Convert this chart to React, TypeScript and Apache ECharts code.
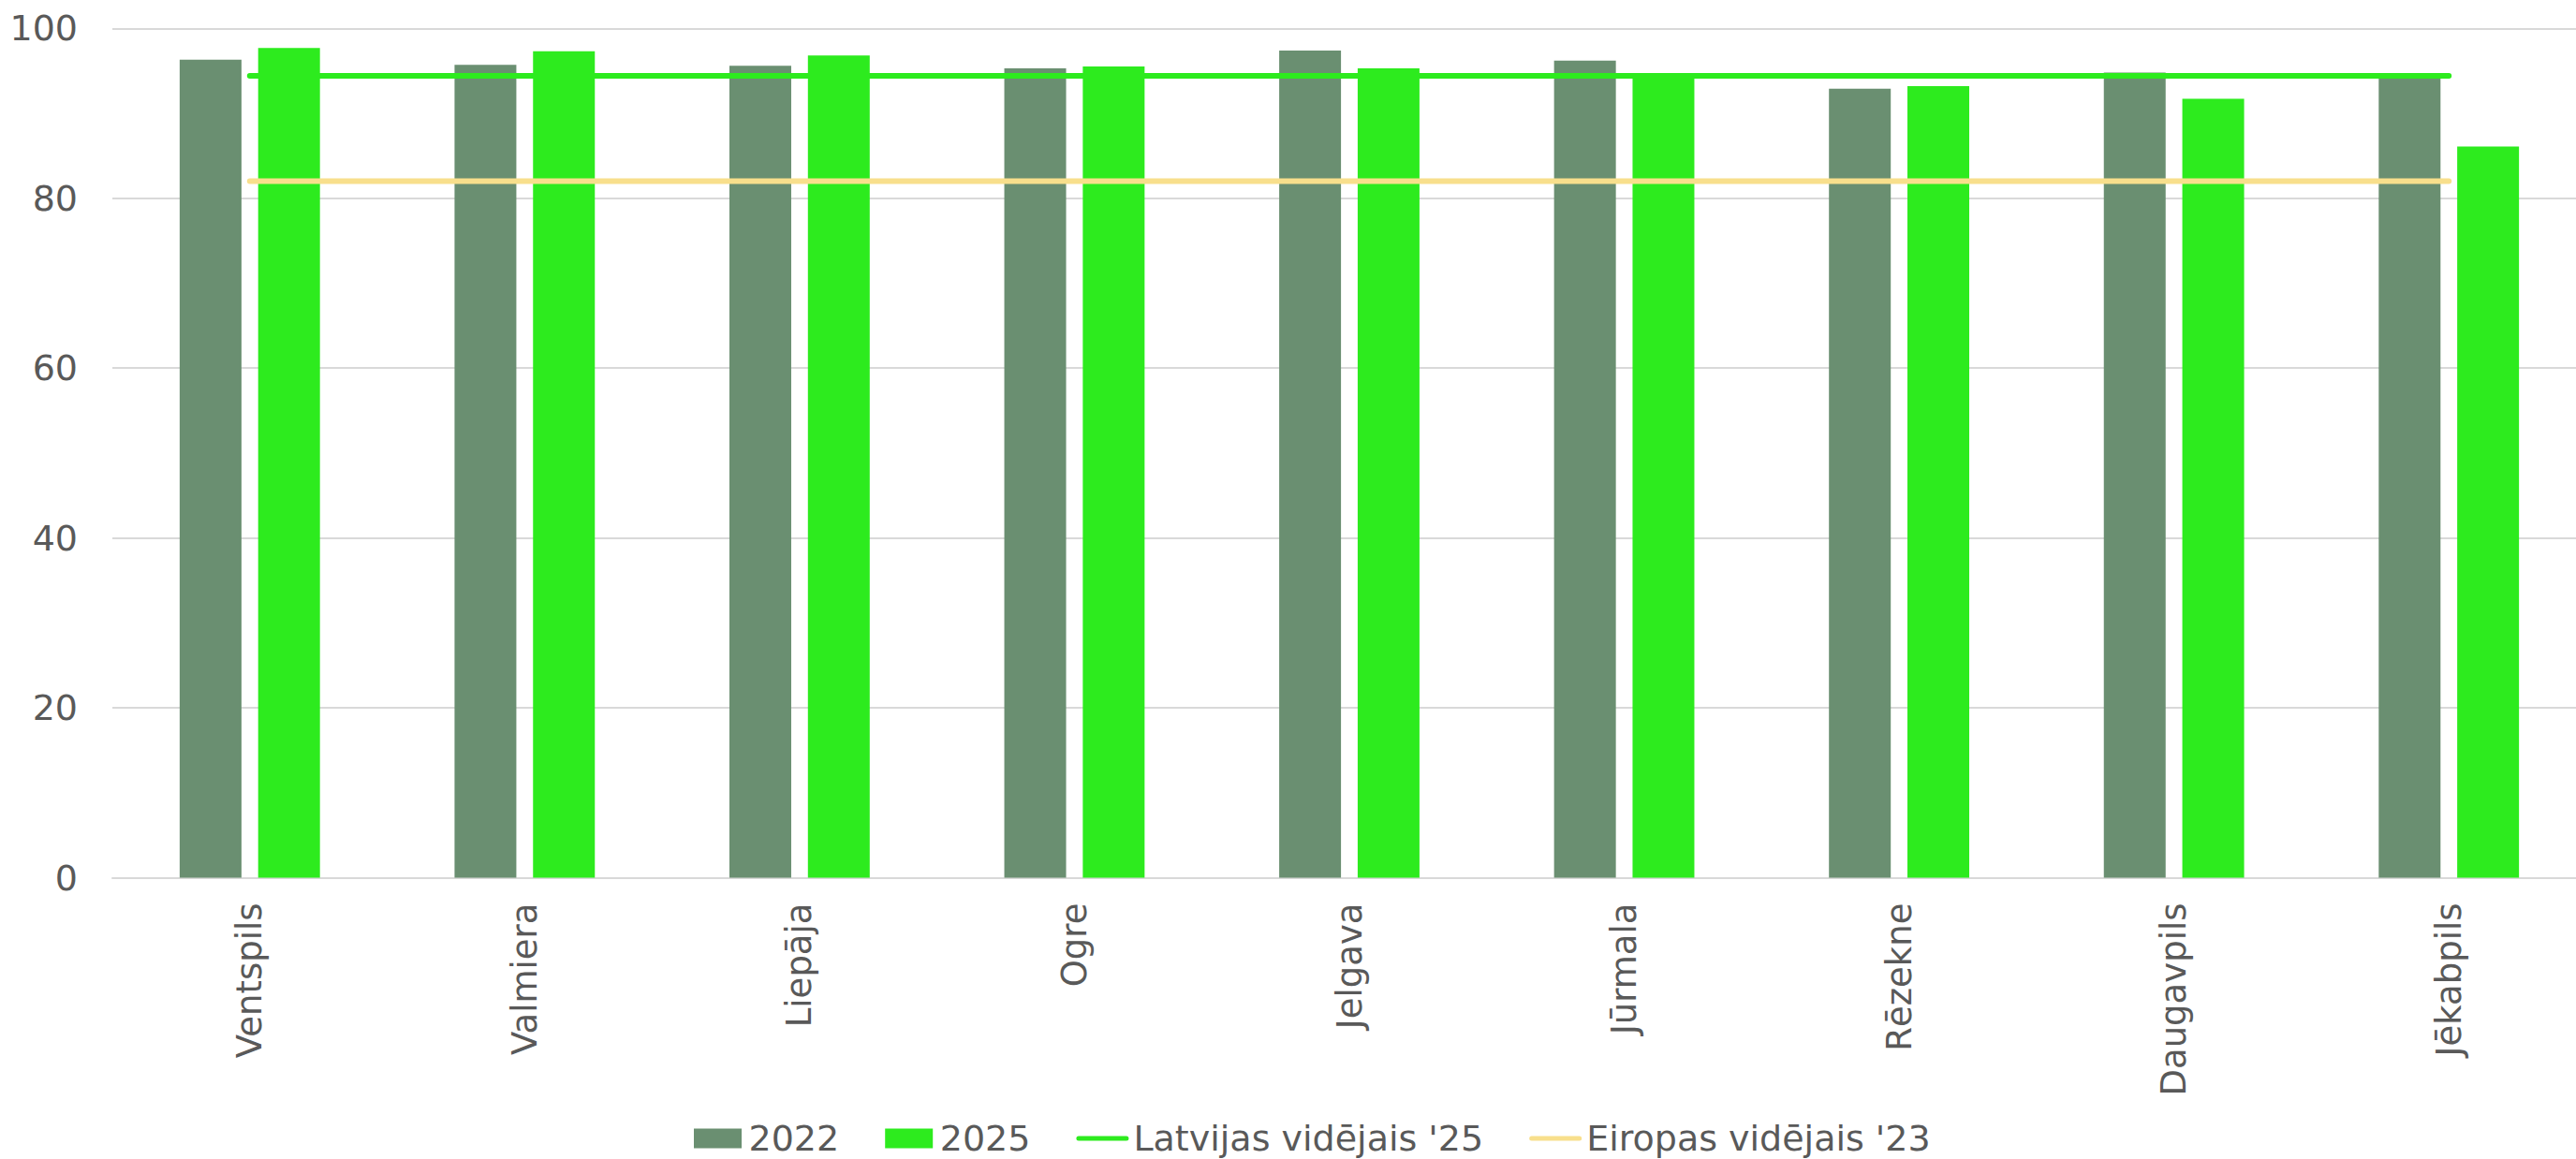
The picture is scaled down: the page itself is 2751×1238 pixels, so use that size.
import React, { useEffect, useRef } from "react";
import * as echarts from "echarts";

const categories = ["Ventspils", "Valmiera", "Liepāja", "Ogre", "Jelgava", "Jūrmala", "Rēzekne", "Daugavpils", "Jēkabpils"];
const values2022 = [96.3, 95.7, 95.6, 95.3, 97.4, 96.2, 92.9, 94.8, 94.5];
const values2025 = [97.7, 97.3, 96.8, 95.5, 95.3, 94.6, 93.2, 91.7, 86.1];
const latviaAvg25 = [94.4, 94.4, 94.4, 94.4, 94.4, 94.4, 94.4, 94.4, 94.4];
const europeAvg23 = [82.0, 82.0, 82.0, 82.0, 82.0, 82.0, 82.0, 82.0, 82.0];
const yTicks = [0, 20, 40, 60, 80, 100];

const FONT = "'DejaVu Sans', Verdana, sans-serif";
const TEXT = "#595959";
const LINE_ICON = "path://M2.5,0 L53.5,0 A2.5,2.5 0 0 1 53.5,5 L2.5,5 A2.5,2.5 0 0 1 2.5,0 Z";
const RECT_ICON = "path://M0,0 L51,0 L51,21 L0,21 Z";

export default function App() {
  const ref = useRef<HTMLDivElement>(null);
  useEffect(() => {
    if (!ref.current) return;
    const chart = echarts.init(ref.current, null, { renderer: "svg" });
    chart.setOption({
      animation: false,
      backgroundColor: "#ffffff",
      textStyle: { fontFamily: FONT, color: TEXT },
      grid: { left: 120, top: 30.3, width: 2642, bottom: 300.5, containLabel: false },
      legend: {
        left: 741,
        top: 1196,
        padding: 0,
        itemWidth: 56,
        itemHeight: 21,
        itemGap: 49,
        symbolKeepAspect: true,
        textStyle: { fontFamily: FONT, fontSize: 38, lineHeight: 40, color: TEXT },
        data: [
          { name: "2022", icon: RECT_ICON },
          { name: "2025", icon: RECT_ICON },
          { name: "Latvijas vidējais '25", icon: LINE_ICON },
          { name: "Eiropas vidējais '23", icon: LINE_ICON },
        ],
      },
      xAxis: {
        type: "category",
        data: categories,
        axisLine: { show: true, lineStyle: { color: "#d9d9d9", width: 2 } },
        axisTick: { show: false },
        axisLabel: { rotate: 90, margin: 27, fontSize: 37, color: TEXT, fontFamily: FONT, interval: 0 },
      },
      yAxis: {
        type: "value",
        min: yTicks[0],
        max: yTicks[yTicks.length - 1],
        interval: yTicks[1] - yTicks[0],
        axisLine: { show: false },
        axisTick: { show: false },
        splitLine: { lineStyle: { color: "#d9d9d9", width: 2 } },
        axisLabel: { margin: 37, fontSize: 38, color: TEXT, fontFamily: FONT },
      },
      series: [
        {
          name: "2022",
          type: "bar",
          data: values2022,
          barWidth: 66,
          barGap: "27%",
          itemStyle: { color: "#6a8f71" },
          z: 2,
        },
        {
          name: "2025",
          type: "bar",
          data: values2025,
          barWidth: 66,
          barGap: "27%",
          itemStyle: { color: "#2deb1e" },
          z: 2,
        },
        {
          name: "Latvijas vidējais '25",
          type: "line",
          data: latviaAvg25,
          symbol: "none",
          showSymbol: false,
          lineStyle: { color: "#2deb1e", width: 6, cap: "round" },
          itemStyle: { color: "#2deb1e" },
          z: 5,
        },
        {
          name: "Eiropas vidējais '23",
          type: "line",
          data: europeAvg23,
          symbol: "none",
          showSymbol: false,
          lineStyle: { color: "#f8df8c", width: 6, cap: "round" },
          itemStyle: { color: "#f8df8c" },
          z: 4,
        },
      ],
    });
    return () => chart.dispose();
  }, []);
  return (
    <div style={{ position: "fixed", left: 0, top: 0, width: 2751, height: 1238, overflow: "hidden", background: "#fff" }}>
      <div ref={ref} style={{ position: "absolute", left: 0, top: 0, width: 2770, height: 1238 }} />
    </div>
  );
}
